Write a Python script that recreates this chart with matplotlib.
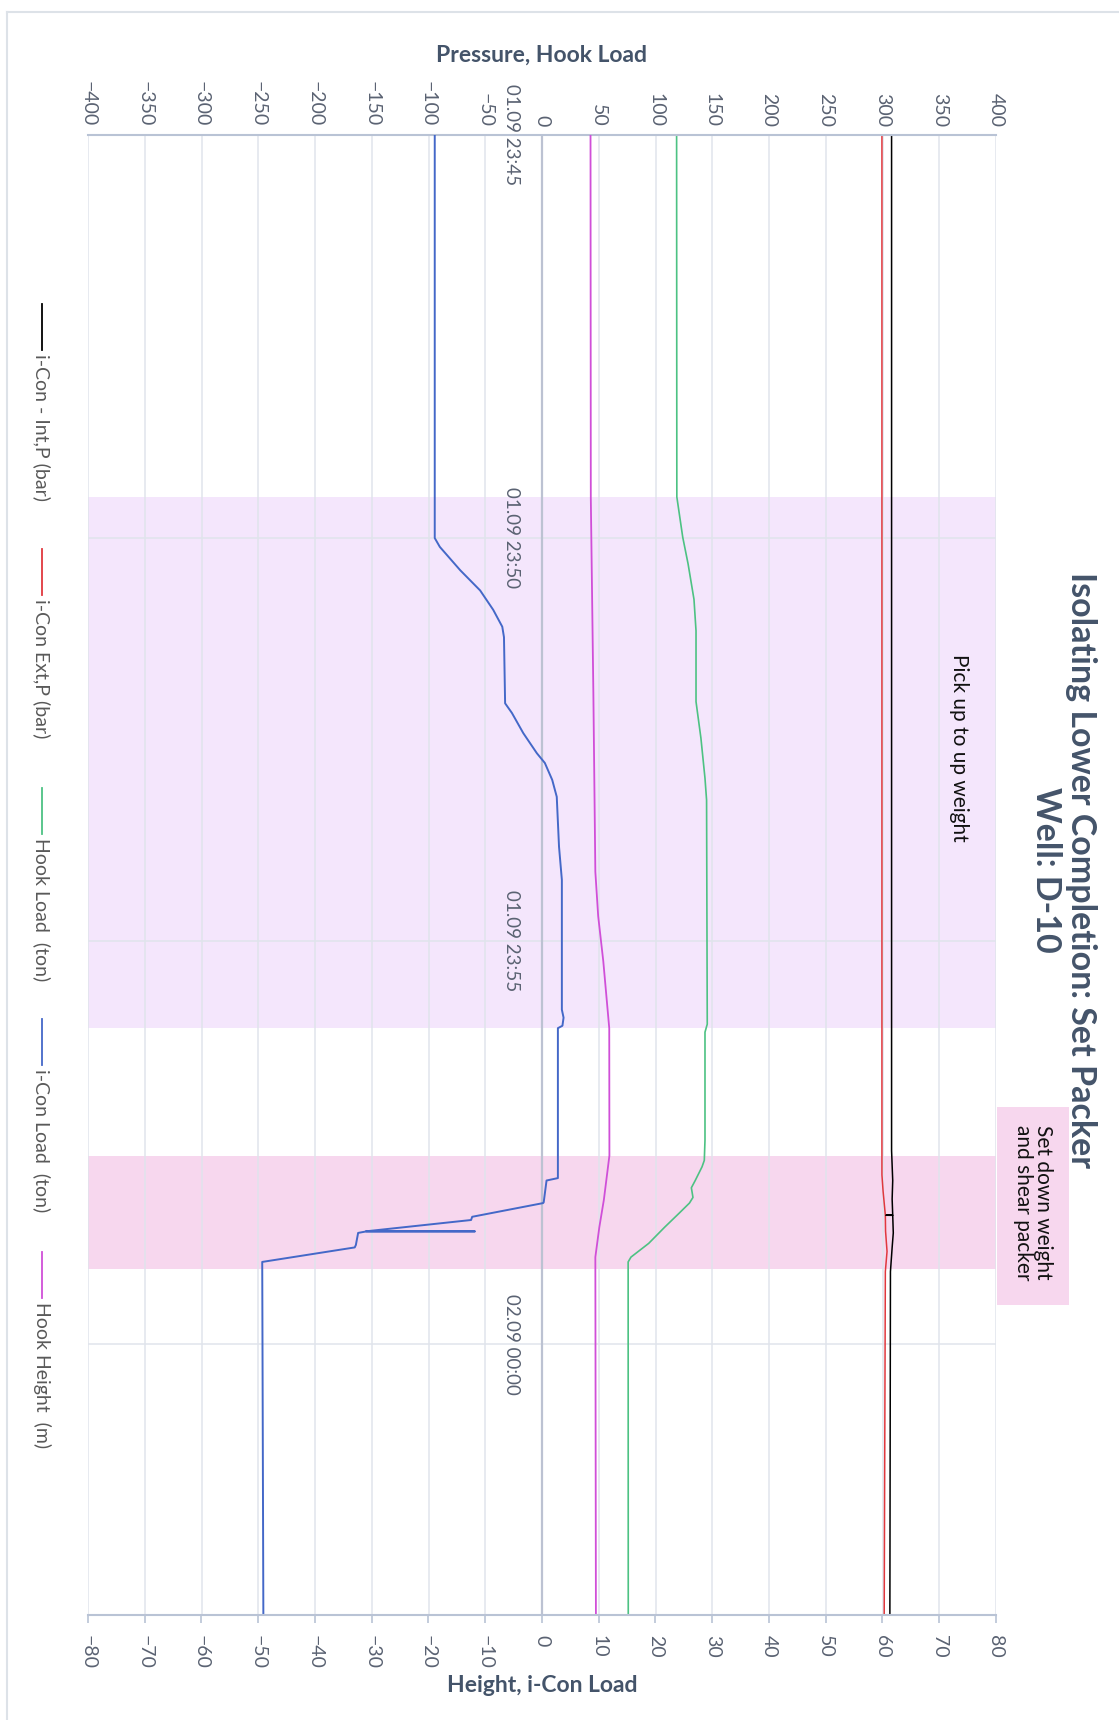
import matplotlib
matplotlib.use("Agg")
import matplotlib.pyplot as plt
from matplotlib.lines import Line2D
from matplotlib.patches import Rectangle
import numpy as np

plt.rcParams['font.family'] = ['Lato', 'DejaVu Sans']

# time in minutes after 01.09 23:45
t_end = 18.36
tick_minutes = [0, 5, 10, 15]
time_labels = ["01.09 23:45", "01.09 23:50", "01.09 23:55", "02.09 00:00"]

# shaded phases (minutes)
band_start = [4.49, 12.66]
band_end = [11.08, 14.07]
band_colors = ['#F4E6FC', '#F7D7EE']

# i-Con - Int,P (bar)
int_t = [0, 12.6, 12.97, 13.2, 13.4, 13.401, 13.402, 13.62, 13.8, 14.1, t_end]
int_p = [308.0, 308.0, 309.0, 308.5, 309.0, 303.0, 309.0, 309.5, 308.5, 307.0, 306.5]

# i-Con Ext,P (bar)
ext_t = [0, 12.9, 13.1, 13.4, 13.6, 13.85, 14.1, t_end]
ext_p = [299.5, 299.5, 300.5, 302.5, 302.7, 304.0, 302.5, 301.5]

# Hook Load (ton)
hook_t = [0, 4.49, 4.99, 5.32, 5.76, 6.15, 7.03, 7.48, 7.98, 8.25, 11.03, 11.13,
          12.47, 12.72, 12.80, 12.97, 13.06, 13.18, 13.25, 13.38, 13.55, 13.75,
          13.92, 13.98, t_end]
hook_load = [118.6, 118.8, 124.0, 128.7, 133.9, 135.7, 135.7, 140.0, 143.6, 145.0,
             145.6, 143.6, 143.6, 143.0, 141.0, 135.0, 131.6, 133.0, 129.9, 120.5,
             108.0, 94.0, 78.4, 75.9, 76.0]

# i-Con Load (ton)
icon_t = [0, 5.0, 5.11, 5.40, 5.65, 5.89, 6.10, 6.23, 7.05, 7.17, 7.42, 7.67, 7.79,
          8.00, 8.21, 8.83, 9.24, 10.85, 10.95, 11.05, 11.08, 12.84, 12.94, 12.97,
          13.24, 13.25, 13.42, 13.46, 13.60, 13.601, 13.602, 13.62, 13.77, 13.80,
          13.98, t_end]
icon_load = [-18.9, -18.9, -18.0, -14.4, -10.9, -8.6, -7.0, -6.7, -6.5, -5.3, -3.3,
             -0.9, 0.5, 1.8, 2.6, 3.0, 3.5, 3.5, 3.8, 3.6, 2.8, 2.8, 2.8, 0.8,
             0.3, 0.2, -12.3, -12.5, -31.0, -11.8, -31.0, -32.4, -32.8, -33.0,
             -49.3, -49.1]

# Hook Height (m)
height_t = [0, 4.5, 6.92, 9.14, 9.69, 10.25, 11.08, 12.66, 13.21, 13.55, 13.92, t_end]
hook_height = [8.55, 8.6, 9.05, 9.4, 9.9, 10.8, 11.85, 11.88, 10.9, 10.1, 9.4, 9.5]

legend_labels = ["i-Con - Int,P (bar)", "i-Con Ext,P (bar)", "Hook Load  (ton)",
                 "i-Con Load  (ton)", "Hook Height  (m)"]
colors = ['#000000', '#E0383E', '#4DC283', '#4468C8', '#D04FD8']

W, H = 1119, 1720
fig = plt.figure(figsize=(W / 100, H / 100), dpi=100)

def fx(px):
    return px / W

def fy(py):
    return 1 - py / H

ax = fig.add_axes([fx(88), fy(1615), fx(996) - fx(88), fy(135) - fy(1615)])
ax2 = ax.twiny()

ax.set_xlim(-400, 400)
ax.set_ylim(t_end, 0)
ax.set_axisbelow(True)

for t0, t1, c in zip(band_start, band_end, band_colors):
    ax.axhspan(t0, t1, color=c, lw=0, zorder=0.1)

ax.axvline(0, color='#BCC2D2', lw=1.6, zorder=0.8)

ax.plot(ext_p, ext_t, color=colors[1], lw=1.1)
ax.plot(int_p, int_t, color=colors[0], lw=1.1)
ax.plot(hook_load, hook_t, color=colors[2], lw=1.2)

ax.xaxis.tick_top()
ax.set_xticks(np.arange(-400, 401, 50))
ax.set_yticks(tick_minutes)
ax.set_yticklabels([])
ax.tick_params(axis='x', top=True, labeltop=True, bottom=False, labelbottom=False,
               length=0, pad=6, labelrotation=270, labelsize=14,
               labelcolor='#5A6272')
ax.tick_params(axis='y', length=0)
ax.grid(True, color='#E0E4EC', lw=1.1)
for s in ['left', 'right', 'bottom']:
    ax.spines[s].set_visible(False)
ax.spines['top'].set_color('#B9C3D5')
ax.spines['top'].set_linewidth(1.5)

for t, lab in zip(tick_minutes, time_labels):
    ax.annotate(lab, xy=(0, t), xytext=(-31, 0), textcoords='offset pixels',
                rotation=270, ha='center', va='center', fontsize=13.5,
                color='#5A6272')

ax2.set_xlim(-80, 80)
ax2.set_ylim(t_end, 0)
ax2.plot(hook_height, height_t, color=colors[4], lw=1.3)
ax2.plot(icon_load, icon_t, color=colors[3], lw=1.4)
ax2.xaxis.tick_bottom()
ax2.set_xticks(np.arange(-80, 81, 10))
ax2.tick_params(axis='x', top=False, labeltop=False, bottom=True, labelbottom=True,
                length=6, width=1.2, color='#B9C3D5', pad=8.5,
                labelrotation=270, labelsize=14, labelcolor='#5A6272')
for s in ['left', 'right', 'top']:
    ax2.spines[s].set_visible(False)
ax2.spines['bottom'].set_color('#B9C3D5')
ax2.spines['bottom'].set_linewidth(1.5)

# axis titles
fig.text(fx(542), fy(55), "Pressure, Hook Load", ha='center', va='center',
         fontsize=16.5, fontweight='bold', color='#44546A')
fig.text(fx(542), fy(1685), "Height, i-Con Load", ha='center', va='center',
         fontsize=16.5, fontweight='bold', color='#44546A')

# chart title
fig.text(fx(1081), fy(870), "Isolating Lower Completion: Set Packer",
         rotation=270, ha='center', va='center',
         fontsize=24.5, fontweight='bold', color='#44546A')
fig.text(fx(1046), fy(870), "Well: D-10",
         rotation=270, ha='center', va='center',
         fontsize=24.5, fontweight='bold', color='#44546A')

# phase labels
fig.text(fx(959), fy(748), "Pick up to up weight", rotation=270, ha='center',
         va='center', fontsize=15, color='#111111')
fig.add_artist(Rectangle((fx(997), fy(1305)), fx(1069) - fx(997), fy(1107) - fy(1305),
                         transform=fig.transFigure, color='#F7D7EE', lw=0))
fig.text(fx(1033), fy(1203), "Set down weight\nand shear packer", rotation=270,
         ha='center', va='center', multialignment='left', fontsize=15,
         color='#111111', linespacing=1.05)

# legend
legend_y = [304, 549, 788, 1019, 1252]
for y0, lab, c in zip(legend_y, legend_labels, colors):
    fig.add_artist(Line2D([fx(42), fx(42)], [fy(y0), fy(y0 + 46)],
                          transform=fig.transFigure, color=c, lw=1.3))
    fig.text(fx(42), fy(y0 + 50), lab, rotation=270, rotation_mode='anchor',
             ha='left', va='center', fontsize=14, color='#595959')

# outer frame
fig.add_artist(Line2D([fx(7), fx(7)], [0, fy(12)], transform=fig.transFigure,
                      color='#DDE2E8', lw=1.5))
fig.add_artist(Line2D([fx(7), 1], [fy(12), fy(12)], transform=fig.transFigure,
                      color='#DDE2E8', lw=1.5))

fig.savefig("out.png", dpi=100)
